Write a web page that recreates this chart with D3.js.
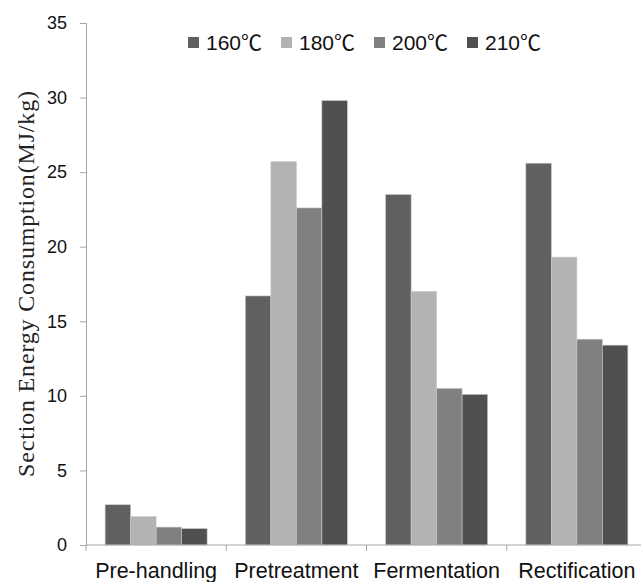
<!DOCTYPE html>
<html><head><meta charset="utf-8">
<script src="https://cdn.jsdelivr.net/npm/d3@7"></script>
<style>body{margin:0;background:#fff}</style>
</head><body>
<svg id="c" width="642" height="582"></svg>
<script>
const categories = ["Pre-handling","Pretreatment","Fermentation","Rectification"];
const seriesNames = ["160℃","180℃","200℃","210℃"];
const s160 = [2.7, 16.7, 23.5, 25.6];
const s180 = [1.9, 25.7, 17.0, 19.3];
const s200 = [1.2, 22.6, 10.5, 13.8];
const s210 = [1.1, 29.8, 10.1, 13.4];
const yTicks = [0,5,10,15,20,25,30,35];
const colors = ["#606060","#b3b3b3","#808080","#505050"];
const series = [s160,s180,s200,s210];

const sans = "Liberation Sans, Arial, 'Noto Sans CJK SC', sans-serif";
const svg = d3.select("#c");
const mLeft = 86, mRight = 647, mTop = 23, mBottom = 545;
const x = d3.scaleBand().domain(categories).range([mLeft, mRight]);
const y = d3.scaleLinear().domain([0,35]).range([mBottom, mTop]);

// bars
const inner = x.bandwidth(), groupW = 102;
const x2 = d3.scaleBand().domain(seriesNames).range([(inner-groupW)/2, (inner+groupW)/2]);
categories.forEach((c,i)=>{
  series.forEach((s,j)=>{
    svg.append("rect")
      .attr("x", x(c) + x2(seriesNames[j]))
      .attr("y", y(s[i]))
      .attr("width", x2.bandwidth())
      .attr("height", y(0)-y(s[i]))
      .attr("fill", colors[j])
      .attr("stroke", "#c8c8c8").attr("stroke-width", 0.6);
  });
});

// y axis
const yAxis = d3.axisLeft(y).tickValues(yTicks).tickSize(6).tickPadding(13);
const gy = svg.append("g").attr("transform",`translate(${mLeft},0)`).call(yAxis);
gy.select(".domain").attr("stroke","#a6a6a6");
gy.selectAll(".tick line").attr("stroke","#a6a6a6");
gy.selectAll(".tick text").attr("font-family",sans).attr("font-size",18).attr("fill","#111");

// x axis
svg.append("line").attr("x1",mLeft).attr("x2",641).attr("y1",mBottom).attr("y2",mBottom).attr("stroke","#a6a6a6");
categories.forEach(c=>{
  svg.append("line").attr("x1",x(c)).attr("x2",x(c)).attr("y1",mBottom).attr("y2",mBottom+6).attr("stroke","#a6a6a6");
  svg.append("text").attr("x",x(c)+x.bandwidth()/2).attr("y",578)
    .attr("text-anchor","middle").attr("font-family",sans).attr("font-size",21.5).attr("fill","#111").text(c);
});

// y title
svg.append("text").attr("transform","translate(34,284) rotate(-90)")
  .attr("text-anchor","middle").attr("font-family","Liberation Serif, Times New Roman, serif").attr("font-size",24).attr("fill","#222")
  .attr("textLength",386).attr("lengthAdjust","spacing")
  .text("Section Energy Consumption(MJ/kg)");

// legend
const legX = [188, 281, 374, 467];
seriesNames.forEach((n,j)=>{
  svg.append("rect").attr("x",legX[j]).attr("y",37).attr("width",11).attr("height",11).attr("fill",colors[j]);
  svg.append("text").attr("x",legX[j]+18).attr("y",50).attr("font-family",sans).attr("font-size",21).attr("fill","#111").text(n);
});
</script>
</body></html>
